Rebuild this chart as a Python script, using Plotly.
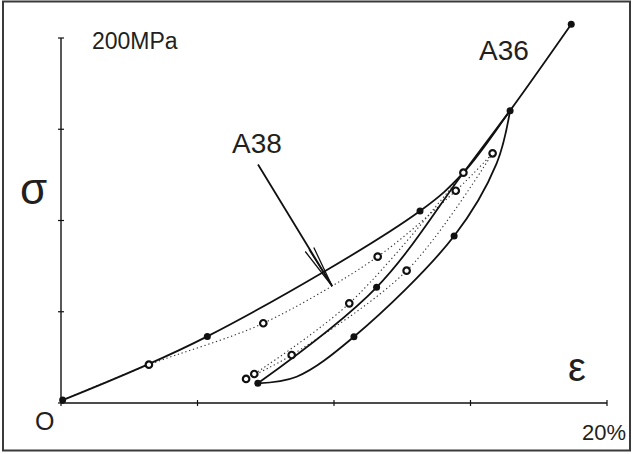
import plotly.graph_objects as go

# ---- data (strain in %, stress in MPa) ----
# A36: loading to failure, with one unload/reload loop (solid)
a36_load_x = [0.06, 5.36, 13.15, 14.74, 16.45, 18.69]
a36_load_y = [1.6, 36.5, 105.2, 126.2, 160.2, 207.5]
a36_unload_x = [16.45, 15.95, 14.40, 10.73, 8.63, 7.21]
a36_unload_y = [160.2, 131.0, 91.5, 36.3, 14.4, 10.8]
a36_reload_x = [7.21, 11.56, 14.74, 16.45]
a36_reload_y = [10.8, 63.4, 126.2, 160.2]
a36_pts_x = [0.06, 5.36, 13.15, 16.45, 18.69, 14.40, 10.73, 11.56, 7.21]
a36_pts_y = [1.6, 36.5, 105.2, 160.2, 207.5, 91.5, 36.3, 63.4, 10.8]

# A38: loading with one unload/reload loop (dotted)
a38_load_x = [0.06, 3.22, 7.41, 11.60, 14.46, 15.81]
a38_load_y = [1.6, 21.0, 43.7, 80.2, 116.3, 136.8]
a38_unload_x = [15.81, 12.66, 8.45, 6.78]
a38_unload_y = [136.8, 72.5, 26.3, 13.2]
a38_reload_x = [7.08, 10.56, 14.74]
a38_reload_y = [15.9, 54.6, 126.2]
a38_pts_x = [3.22, 7.41, 11.60, 14.46, 15.81, 12.66, 8.45, 6.78, 7.08, 10.56, 14.74]
a38_pts_y = [21.0, 43.7, 80.2, 116.3, 136.8, 72.5, 26.3, 13.2, 15.9, 54.6, 126.2]

x_ticks = [0, 5, 10, 15, 20]
y_ticks = [0, 50, 100, 150, 200]

# ---- canvas geometry ----
W, H = 632, 454
ML, MR, MT, MB = 40, 15, 5, 40
X0_PX, Y0_PX = 61, 403          # pixel position of the origin
PX_PER_X = 546 / 20             # pixels per % strain
PX_PER_Y = 365 / 200            # pixels per MPa
x_range = [(ML - X0_PX) / PX_PER_X, (W - MR - X0_PX) / PX_PER_X]
y_range = [(Y0_PX - (H - MB)) / PX_PER_Y, (Y0_PX - MT) / PX_PER_Y]
pw, ph = W - ML - MR, H - MT - MB


def paper_x(px):
    return (px - ML) / pw


def paper_y(py):
    return (H - MB - py) / ph


INK = "#111111"
TEXT = "#231f20"
FONT = "Liberation Sans, Arial, sans-serif"

fig = go.Figure()

solid = dict(color=INK, width=1.8, shape="spline", smoothing=1.0)
dotted = dict(color="#333333", width=1.1, dash="1.3px,2.7px", shape="spline", smoothing=0.9)

for xs, ys in [(a38_load_x, a38_load_y), (a38_unload_x, a38_unload_y), (a38_reload_x, a38_reload_y)]:
    fig.add_trace(go.Scatter(x=xs, y=ys, mode="lines", line=dotted, hoverinfo="skip"))
for xs, ys in [(a36_load_x, a36_load_y), (a36_unload_x, a36_unload_y), (a36_reload_x, a36_reload_y)]:
    fig.add_trace(go.Scatter(x=xs, y=ys, mode="lines", line=solid, hoverinfo="skip"))

fig.add_trace(go.Scatter(x=a38_pts_x, y=a38_pts_y, mode="markers", cliponaxis=False,
                         marker=dict(symbol="circle", size=6.5, color="white",
                                     line=dict(color=INK, width=2.2))))
fig.add_trace(go.Scatter(x=a36_pts_x, y=a36_pts_y, mode="markers", cliponaxis=False,
                         marker=dict(symbol="circle", size=7, color=INK, line=dict(width=0))))

shapes = []
# axes drawn only over the 0..20 % and 0..200 MPa spans
shapes.append(dict(type="line", xref="x", yref="y", x0=0, y0=0, x1=x_ticks[-1], y1=0,
                   line=dict(color=INK, width=1.4)))
shapes.append(dict(type="line", xref="x", yref="y", x0=0, y0=0, x1=0, y1=y_ticks[-1],
                   line=dict(color=INK, width=1.4)))
for xt in x_ticks:
    shapes.append(dict(type="line", xref="x", yref="y", ysizemode="pixel", yanchor=0,
                       x0=xt, x1=xt, y0=-3, y1=3, line=dict(color=INK, width=1.2)))
for yt in y_ticks:
    shapes.append(dict(type="line", xref="x", yref="y", xsizemode="pixel", xanchor=0,
                       x0=-3, x1=3, y0=yt, y1=yt, line=dict(color=INK, width=1.2)))
# frame around the whole figure
shapes.append(dict(type="rect", xref="paper", yref="paper",
                   x0=paper_x(3), x1=paper_x(630), y0=paper_y(450.5), y1=paper_y(1.5),
                   line=dict(color="#3a3a3a", width=2), fillcolor="rgba(0,0,0,0)"))

ann = []


def label(text, px, py, size):
    ann.append(dict(text=text, x=paper_x(px), y=paper_y(py), xref="paper", yref="paper",
                    showarrow=False, xanchor="center", yanchor="middle",
                    font=dict(family=FONT, size=size, color=TEXT)))


label("200MPa", 135, 41, 23)
label("A36", 504, 50, 28)
label("A38", 257, 143, 28)
label("σ", 33, 188, 44)
label("ε", 577, 367, 40)
label("O", 44, 421, 25)
label("20%", 604, 432, 22)

# arrow pointing at the A38 curve: shaft plus narrow barbs
tip_x, tip_y = 9.93, 64.1
for ax, ay, w in [(-75, -123, 1.8), (-28, -36, 1.3), (-24, -38, 1.3), (-19, -40, 1.3)]:
    ann.append(dict(text="", x=tip_x, y=tip_y, xref="x", yref="y", ax=ax, ay=ay,
                    showarrow=True, arrowhead=0, arrowwidth=w, arrowcolor=INK,
                    standoff=0, startstandoff=0))

fig.update_layout(
    width=W, height=H, margin=dict(l=ML, r=MR, t=MT, b=MB),
    paper_bgcolor="white", plot_bgcolor="white", showlegend=False,
    xaxis=dict(range=x_range, visible=False, fixedrange=True),
    yaxis=dict(range=y_range, visible=False, fixedrange=True),
    shapes=shapes, annotations=ann,
)

fig.write_html("out.html")
